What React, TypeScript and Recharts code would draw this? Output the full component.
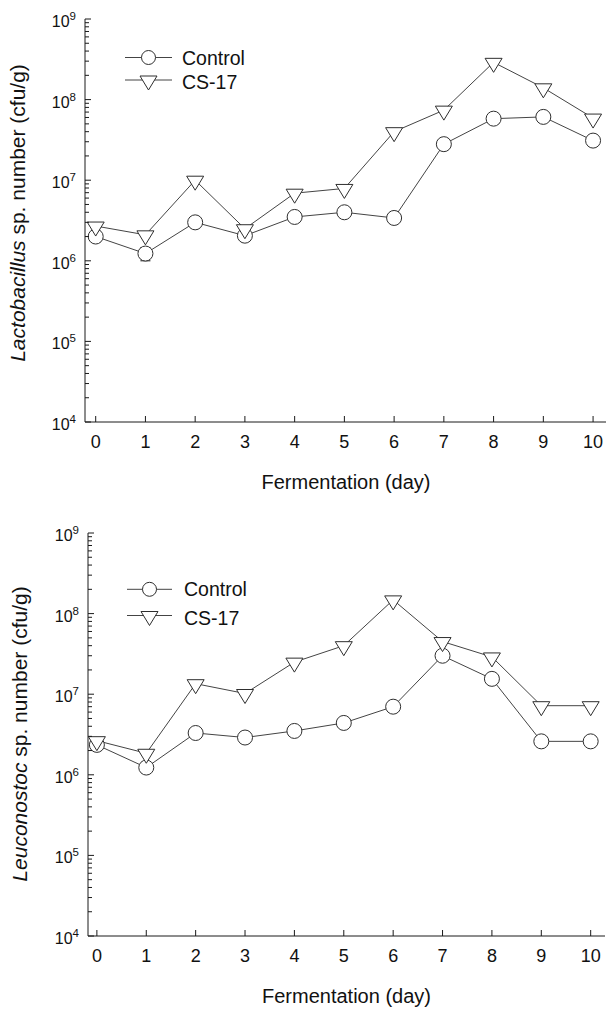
import React from "react";
import { LineChart, Line, XAxis, YAxis, ErrorBar } from "recharts";

const days = [0, 1, 2, 3, 4, 5, 6, 7, 8, 9, 10];
const seriesNames = ["Control", "CS-17"];

// Lactobacillus sp. number (cfu/g)
const lactoControl = [2.0e6, 1.23e6, 3.0e6, 2.05e6, 3.5e6, 4.0e6, 3.4e6, 2.8e7, 5.8e7, 6.1e7, 3.1e7];
const lactoControlErr = [0, 2.3e5, 0, 0, 0, 0, 0, 0, 0, 0, 0];
const lactoCS17 = [2.7e6, 2.1e6, 1.0e7, 2.5e6, 6.9e6, 7.9e6, 4.0e7, 7.4e7, 2.9e8, 1.4e8, 5.9e7];

// Leuconostoc sp. number (cfu/g)
const leucoControl = [2.35e6, 1.23e6, 3.3e6, 2.9e6, 3.5e6, 4.4e6, 7.0e6, 3.0e7, 1.55e7, 2.6e6, 2.6e6];
const leucoCS17 = [2.65e6, 1.85e6, 1.35e7, 1.02e7, 2.5e7, 4.0e7, 1.48e8, 4.5e7, 2.9e7, 7.2e6, 7.2e6];

const decadeExponents = [4, 5, 6, 7, 8, 9];
const minorSteps = [1, 2, 3, 4, 5, 6, 7, 8, 9];
const yTicks = decadeExponents.flatMap((e) => (e === 9 ? [1e9] : minorSteps.map((m) => m * 10 ** e)));

const FONT = "'Liberation Sans', Arial, sans-serif";
const AXIS = "#1a1a1a";
const LINE = "#444";
const MARK = "#2e2e2e";

const lactoRows = days.map((d, i) => ({ day: d, control: lactoControl[i], cs17: lactoCS17[i], err: lactoControlErr[i] }));
const leucoRows = days.map((d, i) => ({ day: d, control: leucoControl[i], cs17: leucoCS17[i], err: 0 }));

const XTick = ({ x, y, payload }: any) => (
  <g>
    <line x1={x} x2={x} y1={y} y2={y - 6} stroke={AXIS} />
    <text x={x} y={y + 26} textAnchor="middle" fontSize={18} fill="#111" fontFamily={FONT}>
      {payload.value}
    </text>
  </g>
);

const YTick = ({ x, y, payload }: any) => {
  const e = Math.log10(payload.value);
  const major = Math.abs(e - Math.round(e)) < 1e-6;
  return (
    <g>
      <line x1={x} x2={x + (major ? 6 : 4)} y1={y} y2={y} stroke={AXIS} />
      {major && (
        <text x={x - 9} y={y + 8} textAnchor="end" fontSize={16} fill="#111" fontFamily={FONT}>
          10
          <tspan dy={-7} fontSize={11.5}>{Math.round(e)}</tspan>
        </text>
      )}
    </g>
  );
};

const CircleDot = (props: any) => {
  const { cx, cy, index } = props;
  if (cx == null || cy == null) return <g key={index} />;
  return <circle key={index} cx={cx} cy={cy} r={7.5} fill="#fff" stroke={MARK} strokeWidth={1} />;
};

const TriangleDot = (props: any) => {
  const { cx, cy, index } = props;
  if (cx == null || cy == null) return <g key={index} />;
  return (
    <polygon
      key={index}
      points={`${cx - 8.5},${cy - 4} ${cx + 8.5},${cy - 4} ${cx},${cy + 10}`}
      fill="#fff"
      stroke={MARK}
      strokeWidth={1}
    />
  );
};

interface PanelProps {
  rows: any[];
  genus: string;
  height: number;
  top: number;
  right: number;
  yAxisWidth: number;
  xAxisHeight: number;
  xDomain: [number, number];
  rightSpine: boolean;
  legend: { x1: number; x2: number; y: number[]; textX: number };
  xTitle: { x: number; y: number };
  yTitle: { x: number; y: number };
}

function Panel(p: PanelProps) {
  return (
    <div style={{ position: "relative", width: 606, height: p.height }}>
      <LineChart
        width={606}
        height={p.height}
        data={p.rows}
        margin={{ top: p.top, right: p.right, bottom: 0, left: 0 }}
      >
        <XAxis
          type="number"
          dataKey="day"
          domain={p.xDomain}
          allowDataOverflow
          ticks={days}
          interval={0}
          height={p.xAxisHeight}
          tickSize={0}
          tickMargin={0}
          tickLine={false}
          tick={<XTick />}
          axisLine={{ stroke: AXIS }}
        />
        <XAxis xAxisId="top" orientation="top" type="number" domain={p.xDomain} height={0} tick={false} tickLine={false} axisLine={{ stroke: AXIS }} />
        <YAxis
          type="number"
          scale="log"
          domain={[1e4, 1e9]}
          allowDataOverflow
          ticks={yTicks}
          interval={0}
          width={p.yAxisWidth}
          tickSize={0}
          tickMargin={0}
          tickLine={false}
          tick={<YTick />}
          axisLine={{ stroke: AXIS }}
        />
        {p.rightSpine && (
          <YAxis yAxisId="right" orientation="right" width={0} tick={false} tickLine={false} axisLine={{ stroke: AXIS }} />
        )}
        <Line
          dataKey="control"
          name={seriesNames[0]}
          stroke={LINE}
          strokeWidth={1}
          dot={<CircleDot />}
          isAnimationActive={false}
        >
          <ErrorBar dataKey="err" width={5} stroke={AXIS} strokeWidth={1} direction="y" />
        </Line>
        <Line
          dataKey="cs17"
          name={seriesNames[1]}
          stroke={LINE}
          strokeWidth={1}
          dot={<TriangleDot />}
          isAnimationActive={false}
        />
      </LineChart>
      <svg
        width={606}
        height={p.height}
        style={{ position: "absolute", left: 0, top: 0, pointerEvents: "none" }}
        fontFamily={FONT}
      >
        {seriesNames.map((n, i) => {
          const y = p.legend.y[i];
          const cx = (p.legend.x1 + p.legend.x2) / 2;
          return (
            <g key={n}>
              <line x1={p.legend.x1} x2={p.legend.x2} y1={y} y2={y} stroke={LINE} />
              {i === 0 ? (
                <circle cx={cx} cy={y} r={7} fill="#fff" stroke={MARK} />
              ) : (
                <polygon points={`${cx - 8.5},${y - 4} ${cx + 8.5},${y - 4} ${cx},${y + 10}`} fill="#fff" stroke={MARK} />
              )}
              <text x={p.legend.textX} y={y + (i === 0 ? 7 : 9)} fontSize={19.5} fill="#111">
                {n}
              </text>
            </g>
          );
        })}
        <text x={p.xTitle.x} y={p.xTitle.y} textAnchor="middle" fontSize={20} fill="#111">
          Fermentation (day)
        </text>
        <text
          x={p.yTitle.x}
          y={p.yTitle.y}
          transform={`rotate(-90 ${p.yTitle.x} ${p.yTitle.y})`}
          textAnchor="middle"
          fontSize={21}
          fill="#111"
        >
          <tspan fontStyle="italic">{p.genus}</tspan> sp. number (cfu/g)
        </text>
      </svg>
    </div>
  );
}

export default function App() {
  return (
    <div style={{ position: "absolute", left: 0, top: 0, width: 606, height: 1009, background: "#fff" }}>
      <Panel
        rows={lactoRows}
        genus="Lactobacillus"
        height={500}
        top={19}
        right={0}
        yAxisWidth={85}
        xAxisHeight={78}
        xDomain={[-0.215, 10.26]}
        rightSpine={false}
        legend={{ x1: 125, x2: 172, y: [57.5, 80], textX: 182 }}
        xTitle={{ x: 346, y: 489 }}
        yTitle={{ x: 25, y: 213 }}
      />
      <Panel
        rows={leucoRows}
        genus="Leuconostoc"
        height={509}
        top={33}
        right={1}
        yAxisWidth={88}
        xAxisHeight={73}
        xDomain={[-0.18, 10.29]}
        rightSpine={true}
        legend={{ x1: 127, x2: 172, y: [89.3, 115.5], textX: 184 }}
        xTitle={{ x: 346.5, y: 503 }}
        yTitle={{ x: 27, y: 234 }}
      />
    </div>
  );
}
